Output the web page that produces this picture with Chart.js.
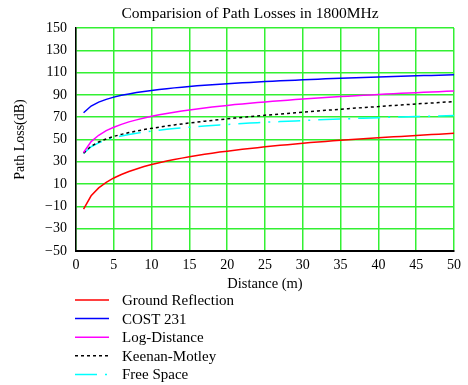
<!DOCTYPE html>
<html>
<head>
<meta charset="utf-8">
<script src="https://cdn.jsdelivr.net/npm/chart.js@4/dist/chart.umd.min.js"></script>
<style>
  html, body { margin: 0; padding: 0; background: #fff; }
  #wrap { width: 468px; height: 385px; }
</style>
</head>
<body>
<div id="wrap"><canvas id="myChart" width="468" height="385"></canvas></div>
<script>
// distance (m)
const distance = [1,2,3,4,5,6,7,8,9,10,11,12,13,14,15,16,17,18,19,20,21,22,23,24,25,
  26,27,28,29,30,31,32,33,34,35,36,37,38,39,40,41,42,43,44,45,46,47,48,49,50];

// path loss values (dB)
const groundReflection = [-12.5,-0.5,6.6,11.6,15.5,18.6,21.3,23.6,25.7,27.5,29.2,30.7,32.1,33.3,34.5,
  35.7,36.7,37.7,38.7,39.5,40.4,41.2,42.0,42.7,43.4,44.1,44.8,45.4,46.0,46.6,47.2,47.7,48.2,48.8,
  49.3,49.8,50.2,50.7,51.1,51.6,52.0,52.4,52.8,53.2,53.6,54.0,54.4,54.7,55.1,55.5];
const cost231 = [74.0,80.0,83.5,86.0,88.0,89.6,90.9,92.1,93.1,94.0,94.8,95.6,96.3,96.9,97.5,98.1,
  98.6,99.1,99.6,100.0,100.4,100.8,101.2,101.6,102.0,102.3,102.6,102.9,103.2,103.5,103.8,104.1,
  104.4,104.6,104.9,105.1,105.4,105.6,105.8,106.0,106.3,106.5,106.7,106.9,107.1,107.3,107.4,107.6,107.8,108.0];
const logDistance = [38.3,48.1,53.8,57.9,61.0,63.6,65.8,67.6,69.3,70.8,72.1,73.4,74.5,75.5,76.5,77.4,
  78.3,79.1,79.9,80.6,81.3,81.9,82.6,83.2,83.7,84.3,84.8,85.3,85.8,86.3,86.8,87.2,87.7,88.1,88.5,
  88.9,89.3,89.6,90.0,90.4,90.7,91.1,91.4,91.7,92.0,92.3,92.6,92.9,93.2,93.5];
const keenanMotley = [37.8,44.0,47.8,50.5,52.8,54.6,56.2,57.6,58.9,60.0,61.1,62.1,63.1,63.9,64.8,65.6,
  66.4,67.1,67.9,68.5,69.2,69.8,70.5,71.1,71.8,72.3,72.9,73.4,74.0,74.5,75.1,75.6,76.2,76.6,77.2,
  77.6,78.2,78.6,79.1,79.5,80.1,80.5,81.0,81.4,81.9,82.3,82.7,83.1,83.6,84.0];
const freeSpace = [37.5,43.5,47.0,49.5,51.5,53.1,54.4,55.6,56.6,57.5,58.3,59.1,59.8,60.4,61.0,61.6,
  62.1,62.6,63.1,63.5,63.9,64.3,64.7,65.1,65.5,65.8,66.1,66.4,66.7,67.0,67.3,67.6,67.9,68.1,68.4,
  68.6,68.9,69.1,69.3,69.5,69.8,70.0,70.2,70.4,70.6,70.8,70.9,71.1,71.3,71.5];

const seriesNames = ['Ground Reflection','COST 231','Log-Distance','Keenan-Motley','Free Space'];

const serif = "'Liberation Serif', 'DejaVu Serif', serif";

function pts(vals) {
  return vals.map((v, i) => ({ x: distance[i], y: v }));
}

// title sits a bit left of the plot centre in the original, so draw it by hand
const titleText = {
  id: 'titleText',
  afterDraw(chart) {
    const ctx = chart.ctx;
    ctx.save();
    ctx.fillStyle = '#000';
    ctx.font = '15.5px ' + serif;
    ctx.textAlign = 'center';
    ctx.textBaseline = 'middle';
    ctx.fillText('Comparision of Path Losses in 1800MHz', 250, 14);
    ctx.restore();
  }
};

// legend drawn as a vertical list below the x axis title
const legendList = {
  id: 'legendList',
  afterDraw(chart) {
    const ctx = chart.ctx;
    ctx.save();
    chart.data.datasets.forEach((ds, i) => {
      const y = 300 + i * 18.6;
      ctx.beginPath();
      ctx.strokeStyle = ds.borderColor;
      ctx.lineWidth = 1.5;
      ctx.setLineDash(ds.borderDash || []);
      ctx.moveTo(75, y);
      ctx.lineTo(109, y);
      ctx.stroke();
      ctx.setLineDash([]);
      ctx.fillStyle = '#000';
      ctx.font = '15px ' + serif;
      ctx.textBaseline = 'middle';
      ctx.fillText(ds.label, 122, y + 1);
    });
    ctx.restore();
  }
};

const minus = v => (v < 0 ? '\u2212' + Math.abs(v) : '' + v);

new Chart(document.getElementById('myChart'), {
  type: 'line',
  data: {
    datasets: [
      { label: seriesNames[0], data: pts(groundReflection), borderColor: '#ff0000', borderWidth: 1.5 },
      { label: seriesNames[1], data: pts(cost231), borderColor: '#0000ff', borderWidth: 1.5 },
      { label: seriesNames[2], data: pts(logDistance), borderColor: '#ff00ff', borderWidth: 1.5 },
      { label: seriesNames[3], data: pts(keenanMotley), borderColor: '#000000', borderWidth: 1.5, borderDash: [3, 3] },
      { label: seriesNames[4], data: pts(freeSpace), borderColor: '#00ffff', borderWidth: 1.5, borderDash: [22, 8, 2, 8] }
    ]
  },
  options: {
    responsive: false,
    animation: false,
    devicePixelRatio: 1,
    elements: { point: { radius: 0 }, line: { tension: 0 } },
    layout: { padding: { left: 0, right: 14, top: 28, bottom: 92 } },
    plugins: {
      legend: { display: false },
      tooltip: { enabled: false },
      title: { display: false }
    },
    scales: {
      x: {
        type: 'linear',
        min: 0, max: 50,
        afterFit(scale) { scale.height = 42; },
        border: { color: '#000', width: 2 },
        grid: { color: '#33f033', lineWidth: 1.5, drawTicks: false },
        ticks: { stepSize: 5, color: '#000', padding: 6, maxRotation: 0,
          font: { family: serif, size: 14 } },
        title: { display: true, text: 'Distance (m)', color: '#000',
          font: { family: serif, size: 14.5 }, padding: { top: 0, bottom: 0 } }
      },
      y: {
        min: -50, max: 150,
        afterFit(scale) { scale.width = 76; },
        border: { color: '#000', width: 1.5 },
        grid: { color: '#33f033', lineWidth: 1.5, drawTicks: false },
        ticks: { stepSize: 20, color: '#000', padding: 9,
          font: { family: serif, size: 14 }, callback: minus },
        title: { display: true, text: 'Path Loss(dB)', color: '#000',
          font: { family: serif, size: 14 }, padding: { top: 12, bottom: 0 } }
      }
    }
  },
  plugins: [titleText, legendList]
});
</script>
</body>
</html>
